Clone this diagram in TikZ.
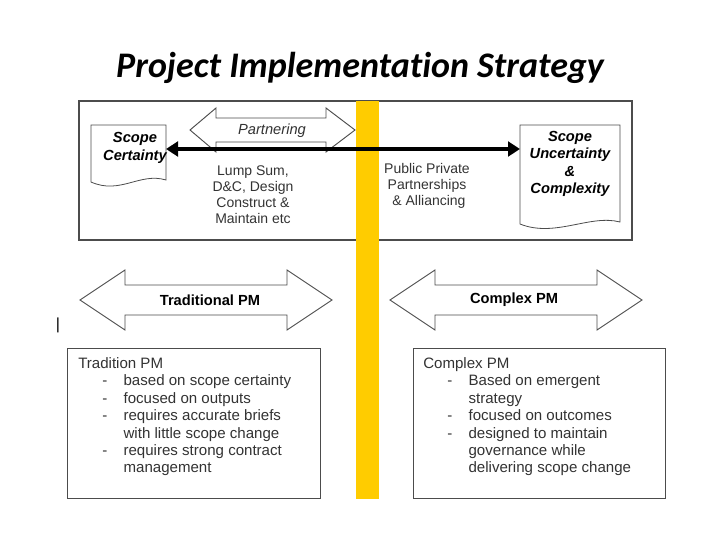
\documentclass[tikz,border=0pt]{standalone}
\usepackage{fontspec}
\usetikzlibrary{arrows.meta}
\setmainfont{Liberation Sans}
\newfontfamily\titlefont{Carlito}
\newcommand{\itm}{\makebox[34pt][l]{\hspace{18pt}-}}
\newcommand{\cnt}{\hspace*{34pt}}
\definecolor{barY}{HTML}{FFCC00}
\begin{document}
\begin{tikzpicture}[x=0.75pt,y=-0.75pt,
  doc/.style={draw=black!70,line width=0.6pt,fill=white},
  hollow/.style={draw=black!70,line width=0.7pt,fill=white},
  body/.style={font=\fontsize{10.5}{12}\selectfont,text=black!80,align=center},
  lst/.style={font=\fontsize{11.3}{13.1}\selectfont,text=black!80,align=left,anchor=north west,inner sep=0pt}]
\useasboundingbox (0,0) rectangle (720,540);
\node (title) at (360,68) {\titlefont\fontsize{27}{30}\selectfont\bfseries\itshape Project Implementat\kern0pt ion Strategy};
\draw[black!70,line width=0.8pt] (79,101) rectangle (632,240);
% yellow bar
\fill[barY] (356,101) rectangle (379,499);
% Partnering hollow arrow
\draw[hollow] (190,130) -- (216,108) -- (216,118) -- (326,118) -- (326,108) -- (355,130) -- (326,152) -- (326,142) -- (216,142) -- (216,152) -- cycle;
\node (partnering) at (272,131) {\fontsize{11}{12}\selectfont\itshape\color{black!80}Partnering};
% documents
\draw[doc] (91,125) -- (166,125) -- (166,180) .. controls (140,172) and (120,195) .. (91,182) -- cycle;
\node (sc) at (135,148) {\fontsize{11}{13}\selectfont\bfseries\itshape\begin{tabular}{@{}c@{}}Scope\\Certainty\end{tabular}};
\draw[doc] (520,125) -- (620,125) -- (620,222) .. controls (590,214) and (555,238) .. (520,224) -- cycle;
\node (su) at (570,164) {\fontsize{11}{13}\selectfont\bfseries\itshape\begin{tabular}{@{}c@{}}Scope\\Uncertainty\\\&\\Complexity\end{tabular}};
\coordinate (l) at (166,149); \coordinate (r) at (520,149);
\draw[line width=3pt,{Triangle[length=9pt,width=11pt]}-{Triangle[length=9pt,width=11pt]}] (l) -- (r);
\node[body] (lump) at (253,195) {Lump Sum,\\D\&C, Design\\Construct \&\\Maintain etc};
\node[body] (ppp) at (427,186) {Public Private\\Partnerships\\\ \& Alliancing};
% big arrows
\draw[hollow] (80,300) -- (125,270) -- (125,285) -- (287,285) -- (287,270) -- (332,300) -- (287,330) -- (287,315) -- (125,315) -- (125,330) -- cycle;
\node (trad) at (210,300) {\fontsize{11}{13}\selectfont\bfseries Traditional PM};
\draw[hollow] (390,300) -- (435,270) -- (435,285) -- (597,285) -- (597,270) -- (642,300) -- (597,330) -- (597,315) -- (435,315) -- (435,330) -- cycle;
\node (comp) at (514,300) {\fontsize{11}{13}\selectfont\bfseries Complex PM};
\node (bar) at (58,325) {\fontsize{12}{14}\selectfont |};
% bottom boxes
\draw[black!70,line width=0.6pt,fill=white] (67,348) rectangle (320,498);
\draw[black!70,line width=0.6pt,fill=white] (413,348) rectangle (665,498);
\node[lst] (tl) at (78,357) {Tradition PM\\
\itm based on scope certainty\\
\itm focused on outputs\\
\itm requires accurate briefs\\
\cnt with little scope change\\
\itm requires strong contract\\
\cnt management};
\node[lst] (cl) at (423,357) {Complex PM\\
\itm Based on emergent\\
\cnt strategy\\
\itm focused on outcomes\\
\itm designed to maintain\\
\cnt governance while\\
\cnt delivering scope change};
\end{tikzpicture}
\end{document}
